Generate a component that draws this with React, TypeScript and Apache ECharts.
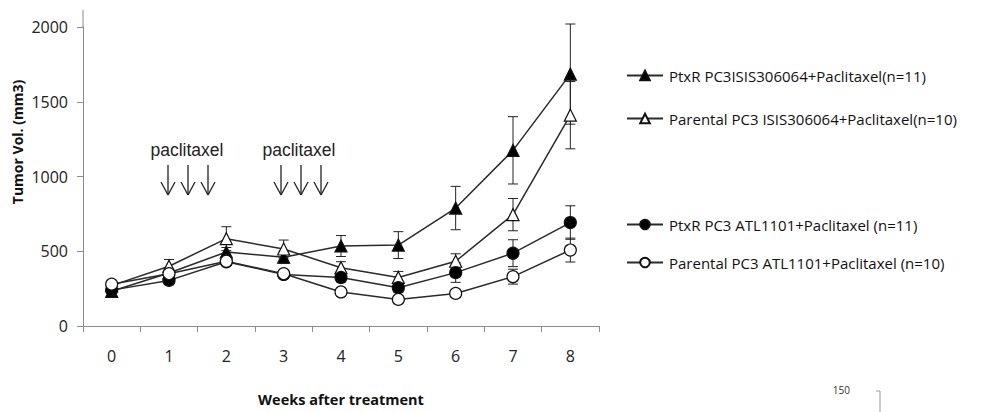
import React, { useEffect, useRef } from "react";
import * as echarts from "echarts";

const weeks = ["0", "1", "2", "3", "4", "5", "6", "7", "8"];
const yTicks = [0, 500, 1000, 1500, 2000];

const ptxrIsis = [232, 355, 495, 460, 535, 541, 789, 1175, 1685];
const ptxrIsisErr = [15, 20, 30, 40, 70, 90, 145, 225, 335];
const parentalIsis = [270, 400, 584, 515, 390, 325, 433, 745, 1410];
const parentalIsisErr = [20, 45, 80, 60, 40, 40, 50, 108, 225];
const ptxrAtl = [240, 305, 430, 345, 325, 256, 357, 487, 692];
const ptxrAtlErr = [15, 20, 25, 25, 30, 30, 65, 90, 112];
const parentalAtl = [280, 350, 433, 350, 228, 178, 218, 330, 508];
const parentalAtlErr = [15, 20, 25, 20, 20, 15, 20, 50, 80];

const seriesNames = [
  "PtxR PC3ISIS306064+Paclitaxel(n=11)",
  "Parental PC3 ISIS306064+Paclitaxel(n=10)",
  "PtxR PC3 ATL1101+Paclitaxel (n=11)",
  "Parental PC3 ATL1101+Paclitaxel (n=10)",
];

const LABEL_FONT = "'Open Sans', sans-serif";

function arrowGroup(x: number) {
  const s = { stroke: "#222", lineWidth: 1.3 };
  return [
    { type: "line", shape: { x1: x, y1: 165, x2: x, y2: 195 }, style: s },
    { type: "line", shape: { x1: x - 7, y1: 182, x2: x, y2: 195 }, style: s },
    { type: "line", shape: { x1: x + 7, y1: 182, x2: x, y2: 195 }, style: s },
  ];
}

export default function App() {
  const ref = useRef<HTMLDivElement>(null);
  useEffect(() => {
    document.body.style.margin = "0";
    if (!ref.current) return;
    const chart = echarts.init(ref.current, undefined, { renderer: "svg" });

    const errSeries = (vals: number[], errs: number[]) => ({
      type: "custom",
      z: 1,
      silent: true,
      data: vals.map((v, i) => [i, v, errs[i]]),
      encode: { x: 0, y: 1 },
      renderItem: (params: any, api: any) => {
        const x = api.value(0);
        const y = api.value(1);
        const e = api.value(2);
        const top = api.coord([x, y + e]);
        const bot = api.coord([x, y - e]);
        const hw = 5;
        const st = { stroke: "#222", lineWidth: 1 };
        return {
          type: "group",
          children: [
            { type: "line", shape: { x1: top[0], y1: top[1], x2: bot[0], y2: bot[1] }, style: st },
            { type: "line", shape: { x1: top[0] - hw, y1: top[1], x2: top[0] + hw, y2: top[1] }, style: st },
            { type: "line", shape: { x1: bot[0] - hw, y1: bot[1], x2: bot[0] + hw, y2: bot[1] }, style: st },
          ],
        };
      },
    });

    const lineSeries = (name: string, data: number[], symbol: string, fill: string, size: number) => ({
      type: "line",
      name,
      data,
      z: 3,
      symbol,
      symbolSize: size,
      showAllSymbol: true,
      lineStyle: { color: "#2a2a2a", width: 1.5 },
      itemStyle: { color: fill, borderColor: "#111", borderWidth: 1.2 },
      emphasis: { disabled: true },
    });

    const legendTops = [68, 111, 217, 255];
    const legends = seriesNames.map((n, i) => ({
      data: [n],
      left: 626,
      top: legendTops[i],
      orient: "horizontal",
      padding: 0,
      itemWidth: 36,
      itemHeight: 12,
      itemGap: 0,
      selectedMode: false,
      textStyle: { fontFamily: LABEL_FONT, fontSize: 15, color: "#111", padding: [0, 0, 0, 1] },
    }));

    chart.setOption({
      animation: false,
      backgroundColor: "#fff",
      grid: { left: 83, top: 27, width: 516, height: 310, containLabel: false },
      legend: legends,
      xAxis: {
        type: "category",
        data: weeks,
        boundaryGap: true,
        axisLine: { show: true, lineStyle: { color: "#8c8c8c", width: 1 } },
        axisTick: { show: true, length: 6, interval: 0, lineStyle: { color: "#8c8c8c" } },
        axisLabel: { margin: 22, fontFamily: LABEL_FONT, fontSize: 16, color: "#222" },
        name: "Weeks after treatment",
        nameLocation: "middle",
        nameGap: 66,
        nameTextStyle: { fontFamily: LABEL_FONT, fontSize: 14.5, fontWeight: "bold", color: "#111" },
      },
      yAxis: {
        type: "value",
        min: yTicks[0],
        max: yTicks[yTicks.length - 1],
        interval: 500,
        splitLine: { show: false },
        axisLine: { show: true, lineStyle: { color: "#8c8c8c", width: 1 } },
        axisTick: { show: true, length: 6, lineStyle: { color: "#8c8c8c" } },
        axisLabel: {
          margin: 15,
          fontFamily: LABEL_FONT,
          fontSize: 16,
          color: "#222",
          formatter: (v: number) => String(v),
        },
      },
      graphic: [
        { type: "line", shape: { x1: 83, y1: 10, x2: 83, y2: 27 }, style: { stroke: "#8c8c8c", lineWidth: 1 } },
        {
          type: "text",
          x: 17,
          y: 142,
          rotation: Math.PI / 2,
          style: {
            text: "Tumor Vol. (mm3)",
            fontFamily: LABEL_FONT,
            fontSize: 14,
            fontWeight: "bold",
            fill: "#111",
            align: "center",
            verticalAlign: "middle",
          },
        },
        {
          type: "text",
          x: 187,
          y: 150,
          style: { text: "paclitaxel", fontFamily: "'Liberation Sans', Arial, sans-serif", fontSize: 17.5, fill: "#222", align: "center", verticalAlign: "middle" },
        },
        {
          type: "text",
          x: 299,
          y: 150,
          style: { text: "paclitaxel", fontFamily: "'Liberation Sans', Arial, sans-serif", fontSize: 17.5, fill: "#222", align: "center", verticalAlign: "middle" },
        },
        ...[168, 188, 208, 281, 301, 321].flatMap((x) => arrowGroup(x)),
        {
          type: "text",
          x: 850,
          y: 390,
          style: { text: "150", fontFamily: LABEL_FONT, fontSize: 10, fill: "#333", align: "right", verticalAlign: "middle" },
        },
        { type: "line", shape: { x1: 876, y1: 391, x2: 880, y2: 391 }, style: { stroke: "#999", lineWidth: 1 } },
        { type: "line", shape: { x1: 880, y1: 391, x2: 880, y2: 412 }, style: { stroke: "#999", lineWidth: 1 } },
      ],
      series: [
        errSeries(ptxrIsis, ptxrIsisErr),
        errSeries(parentalIsis, parentalIsisErr),
        errSeries(ptxrAtl, ptxrAtlErr),
        errSeries(parentalAtl, parentalAtlErr),
        lineSeries(seriesNames[0], ptxrIsis, "triangle", "#000", 12),
        lineSeries(seriesNames[1], parentalIsis, "triangle", "#fff", 12),
        lineSeries(seriesNames[2], ptxrAtl, "circle", "#000", 12),
        lineSeries(seriesNames[3], parentalAtl, "circle", "#fff", 12),
      ],
    });
    return () => chart.dispose();
  }, []);
  return <div ref={ref} style={{ width: 996, height: 412 }} />;
}
